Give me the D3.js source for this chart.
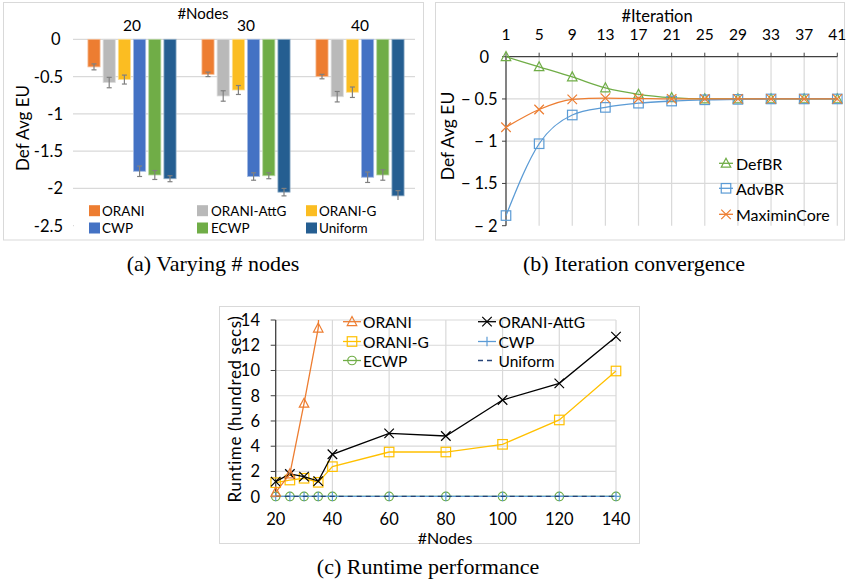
<!DOCTYPE html>
<html><head><meta charset="utf-8">
<script src="https://cdn.jsdelivr.net/npm/d3@7"></script>
<style>body{margin:0;background:#fff}svg{display:block}text{font-family:Lato,"Open Sans",sans-serif;fill:#000}</style>
</head><body><svg id="c" width="848" height="582"></svg>
<script>
// ---------- Panel (a) data ----------
const nodeGroups = ["20", "30", "40"];
const barSeries = ["ORANI", "ORANI-AttG", "ORANI-G", "CWP", "ECWP", "Uniform"];
const barORANI   = [-0.37, -0.47, -0.50];
const barAttG    = [-0.58, -0.76, -0.77];
const barG       = [-0.54, -0.68, -0.71];
const barCWP     = [-1.77, -1.84, -1.85];
const barECWP    = [-1.82, -1.83, -1.82];
const barUniform = [-1.87, -2.05, -2.10];
const errORANI   = [0.04, 0.03, 0.03];
const errAttG    = [0.07, 0.07, 0.07];
const errG       = [0.06, 0.06, 0.07];
const errCWP     = [0.07, 0.05, 0.07];
const errECWP    = [0.06, 0.04, 0.07];
const errUniform = [0.04, 0.05, 0.07];
const barColors  = ["#ED7D31", "#B9B9B9", "#FBBD22", "#4472C4", "#70AD47", "#255E91"];
const aTicks = [0, -0.5, -1, -1.5, -2, -2.5];

// ---------- Panel (b) data ----------
const iterations = [1, 5, 9, 13, 17, 21, 25, 29, 33, 37, 41];
const defBR = [0, -0.12, -0.24, -0.37, -0.445, -0.485, -0.5, -0.5, -0.5, -0.5, -0.5];
const advBR = [-1.88, -1.03, -0.69, -0.60, -0.55, -0.525, -0.51, -0.505, -0.5, -0.5, -0.5];
const maximinCore = [-0.835, -0.625, -0.505, -0.49, -0.495, -0.5, -0.5, -0.5, -0.5, -0.5, -0.5];
const bTicks = [0, -0.5, -1, -1.5, -2];

// ---------- Panel (c) data ----------
const nodesC = [20, 25, 30, 35, 40, 60, 80, 100, 120, 140];
const rtORANI = [0.35, 1.8, 7.4, 13.35, 45];
const rtAttG = [1.19, 1.8, 1.59, 1.24, 3.36, 5.02, 4.81, 7.66, 8.98, 12.68];
const rtG = [1.11, 1.32, 1.46, 1.14, 2.38, 3.54, 3.54, 4.15, 6.08, 9.96];
const rtCWP = [0.02, 0.02, 0.02, 0.02, 0.02, 0.02, 0.02, 0.02, 0.02, 0.02];
const rtECWP = [0.02, 0.02, 0.02, 0.02, 0.02, 0.02, 0.02, 0.02, 0.02, 0.02];
const rtUniform = [0.02, 0.02, 0.02, 0.02, 0.02, 0.02, 0.02, 0.02, 0.02, 0.02];
const cXTicks = [20, 40, 60, 80, 100, 120, 140];
const cYTicks = [0, 2, 4, 6, 8, 10, 12, 14];

const svg = d3.select("#c");
const GRID = "#D9D9D9", FRAME = "#D9D9D9", AXIS = "#404040";

// frames
[[3.5, 2.5, 420, 237.5], [435.5, 2.5, 409, 237.5], [219.5, 306.5, 420, 237]].forEach(f =>
  svg.append("rect").attr("x", f[0]).attr("y", f[1]).attr("width", f[2]).attr("height", f[3])
    .attr("fill", "none").attr("stroke", FRAME));

// ================= Panel (a) =================
{
  const g = svg.append("g");
  const y = d3.scaleLinear().domain([-2.5, 0]).range([225.7, 39.3]);
  const x0 = d3.scaleBand().domain(nodeGroups).range([75, 417]);
  const x1 = d3.scaleBand().domain(barSeries).range([0, x0.bandwidth()]).paddingInner(0.2).paddingOuter(0.85);
  const vals = [barORANI, barAttG, barG, barCWP, barECWP, barUniform];
  const errs = [errORANI, errAttG, errG, errCWP, errECWP, errUniform];
  g.selectAll("line.grid").data(aTicks).join("line")
    .attr("x1", 73).attr("x2", 415).attr("y1", d => y(d)).attr("y2", d => y(d))
    .attr("stroke", GRID).attr("stroke-width", 1.3);
  g.selectAll("text.yt").data(aTicks).join("text")
    .attr("x", d => d === 0 ? 60.5 : 63).attr("y", d => y(d)).attr("text-anchor", "end").attr("dominant-baseline", "central")
    .attr("font-size", 16.5).text(d => d === 0 ? "0" : "-" + Math.abs(d));
  g.selectAll("text.xt").data(nodeGroups).join("text")
    .attr("x", d => x0(d) + x0.bandwidth() / 2).attr("y", 25).attr("text-anchor", "middle")
    .attr("dominant-baseline", "central").attr("font-size", 15.5).text(d => d);
  g.append("text").attr("x", 203).attr("y", 13).attr("text-anchor", "middle").attr("dominant-baseline", "central")
    .attr("font-size", 15).text("#Nodes");
  g.append("text").attr("transform", "translate(22,128) rotate(-90)").attr("text-anchor", "middle")
    .attr("dominant-baseline", "central").attr("font-size", 17).text("Def Avg EU");
  barSeries.forEach((s, si) => {
    const light = d3.interpolateRgb(barColors[si], "#fff")(0.5);
    nodeGroups.forEach((n, gi) => {
      const v = vals[si][gi], e = errs[si][gi];
      const bx = x0(n) + x1(s), bw = x1.bandwidth();
      g.append("rect").attr("x", bx).attr("y", y(0)).attr("width", bw).attr("height", y(v) - y(0))
        .attr("fill", barColors[si]).attr("stroke", light).attr("stroke-width", 0.8);
      const cx = bx + bw / 2;
      g.append("line").attr("x1", cx).attr("x2", cx).attr("y1", y(v + e)).attr("y2", y(v - e))
        .attr("stroke", "#808080").attr("stroke-width", 1.2);
      [v + e, v - e].forEach(t => g.append("line").attr("x1", cx - 2.5).attr("x2", cx + 2.5)
        .attr("y1", y(t)).attr("y2", y(t)).attr("stroke", "#808080").attr("stroke-width", 1.2));
    });
  });
  // legend
  g.append("rect").attr("x", 74).attr("y", 200).attr("width", 342).attr("height", 38).attr("fill", "#fff");
  const lx = [[89, 102], [197, 211], [306, 319]], ly = [210.7, 228];
  barSeries.forEach((s, i) => {
    const col = i % 3, row = Math.floor(i / 3);
    g.append("rect").attr("x", lx[col][0]).attr("y", ly[row] - 5.5).attr("width", 11).attr("height", 11)
      .attr("fill", barColors[i]);
    g.append("text").attr("x", lx[col][1]).attr("y", ly[row]).attr("dominant-baseline", "central")
      .attr("font-size", 13.5).text(s);
  });
}

function marker(g, type, cx, cy, color, size) {
  const s = size || 9;
  if (type === "tri") {
    const h = s * 0.9;
    g.append("path").attr("d", `M${cx},${cy - h * 0.6}L${cx + s / 2},${cy + h * 0.45}L${cx - s / 2},${cy + h * 0.45}Z`)
      .attr("fill", "none").attr("stroke", color).attr("stroke-width", 1.2);
  } else if (type === "sq") {
    g.append("rect").attr("x", cx - s / 2).attr("y", cy - s / 2).attr("width", s).attr("height", s)
      .attr("fill", "none").attr("stroke", color).attr("stroke-width", 1.2);
  } else if (type === "x") {
    const r = s / 2;
    g.append("path").attr("d", `M${cx - r},${cy - r}L${cx + r},${cy + r}M${cx - r},${cy + r}L${cx + r},${cy - r}`)
      .attr("stroke", color).attr("stroke-width", 1.2);
  } else if (type === "plus") {
    const r = s / 2;
    g.append("path").attr("d", `M${cx - r},${cy}L${cx + r},${cy}M${cx},${cy - r}L${cx},${cy + r}`)
      .attr("stroke", color).attr("stroke-width", 1.2);
  } else if (type === "circ") {
    g.append("circle").attr("cx", cx).attr("cy", cy).attr("r", s / 2)
      .attr("fill", "none").attr("stroke", color).attr("stroke-width", 1.2);
  }
}

// ================= Panel (b) =================
{
  const g = svg.append("g");
  const x = d3.scalePoint().domain(iterations).range([506, 837.3]);
  const y = d3.scaleLinear().domain([-2, 0]).range([225.7, 56.7]);
  g.selectAll("line.vg").data(iterations.slice(1)).join("line")
    .attr("x1", d => x(d)).attr("x2", d => x(d)).attr("y1", y(0)).attr("y2", y(-2))
    .attr("stroke", GRID).attr("stroke-width", 1.2);
  g.selectAll("line.hg").data(bTicks.slice(1, 4)).join("line")
    .attr("x1", x(1)).attr("x2", x(41)).attr("y1", d => y(d)).attr("y2", d => y(d))
    .attr("stroke", GRID).attr("stroke-width", 1.2);
  // axes
  g.append("line").attr("x1", x(1)).attr("x2", x(41)).attr("y1", y(0)).attr("y2", y(0)).attr("stroke", AXIS).attr("stroke-width", 1.3);
  g.append("line").attr("x1", x(1)).attr("x2", x(1)).attr("y1", y(0)).attr("y2", y(-2)).attr("stroke", AXIS).attr("stroke-width", 1.3);
  g.selectAll("line.tt").data(iterations).join("line")
    .attr("x1", d => x(d)).attr("x2", d => x(d)).attr("y1", y(0)).attr("y2", y(0) - 4).attr("stroke", AXIS);
  g.selectAll("line.yt").data(bTicks).join("line")
    .attr("x1", x(1) - 4).attr("x2", x(1)).attr("y1", d => y(d)).attr("y2", d => y(d)).attr("stroke", AXIS);
  g.selectAll("text.xl").data(iterations).join("text")
    .attr("x", d => x(d)).attr("y", 33.5).attr("text-anchor", "middle").attr("dominant-baseline", "central")
    .attr("font-size", 15.5).text(d => d);
  const yl = g.selectAll("text.yl").data(bTicks).join("text")
    .attr("x", d => d === 0 ? 489 : 497.5).attr("y", d => y(d)).attr("text-anchor", "end").attr("dominant-baseline", "central")
    .attr("font-size", 16.5);
  yl.each(function (d) {
    const t = d3.select(this);
    if (d === 0) { t.text("0"); return; }
    t.append("tspan").text("\u2212");
    t.append("tspan").attr("dx", 4).text(Math.abs(d));
  });
  g.append("text").attr("x", 657).attr("y", 16).attr("text-anchor", "middle").attr("dominant-baseline", "central")
    .attr("font-size", 16.5).text("#Iteration");
  g.append("text").attr("transform", "translate(447,136) rotate(-90)").attr("text-anchor", "middle")
    .attr("dominant-baseline", "central").attr("font-size", 17.5).text("Def Avg EU");
  const series = [
    { name: "DefBR", v: defBR, c: "#70AD47", m: "tri" },
    { name: "AdvBR", v: advBR, c: "#5B9BD5", m: "sq" },
    { name: "MaximinCore", v: maximinCore, c: "#ED7D31", m: "x" }];
  const line = d3.line().x((d, i) => x(iterations[i])).y(d => y(d)).curve(d3.curveMonotoneX);
  series.forEach(s => {
    g.append("path").attr("d", line(s.v)).attr("fill", "none").attr("stroke", s.c).attr("stroke-width", 1.3);
    s.v.forEach((v, i) => marker(g, s.m, x(iterations[i]), y(v), s.c, 9.5));
  });
  const ly = [163.3, 188.3, 214.3];
  series.forEach((s, i) => {
    g.append("line").attr("x1", 719).attr("x2", 733).attr("y1", ly[i]).attr("y2", ly[i]).attr("stroke", s.c).attr("stroke-width", 1.3);
    marker(g, s.m, 726, ly[i], s.c, 9.5);
    g.append("text").attr("x", 736).attr("y", ly[i]).attr("dominant-baseline", "central").attr("font-size", 16).text(s.name);
  });
}

// ================= Panel (c) =================
{
  const g = svg.append("g");
  const x = d3.scaleLinear().domain([20, 140]).range([275.7, 616]);
  const y = d3.scaleLinear().domain([0, 14]).range([496.7, 320]);
  g.append("clipPath").attr("id", "clipC").append("rect")
    .attr("x", 270).attr("y", y(14)).attr("width", 360).attr("height", y(0) - y(14) + 10);
  g.selectAll("line.vg").data(cXTicks.slice(1)).join("line")
    .attr("x1", d => x(d)).attr("x2", d => x(d)).attr("y1", y(14)).attr("y2", y(0))
    .attr("stroke", GRID).attr("stroke-width", 1.2);
  g.selectAll("line.hg").data(cYTicks.slice(1)).join("line")
    .attr("x1", x(20)).attr("x2", x(140)).attr("y1", d => y(d)).attr("y2", d => y(d))
    .attr("stroke", GRID).attr("stroke-width", 1.2);
  g.append("line").attr("x1", x(20)).attr("x2", x(20)).attr("y1", y(14)).attr("y2", y(0)).attr("stroke", AXIS).attr("stroke-width", 1.3);
  g.selectAll("line.yt").data(cYTicks).join("line")
    .attr("x1", x(20) - 5).attr("x2", x(20)).attr("y1", d => y(d)).attr("y2", d => y(d)).attr("stroke", AXIS);
  g.selectAll("text.yl").data(cYTicks).join("text")
    .attr("x", 260).attr("y", d => y(d)).attr("text-anchor", "end").attr("dominant-baseline", "central")
    .attr("font-size", 16.5).text(d => d);
  g.selectAll("text.xl").data(cXTicks).join("text")
    .attr("x", d => x(d)).attr("y", 518.5).attr("text-anchor", "middle").attr("dominant-baseline", "central")
    .attr("font-size", 16.5).text(d => d);
  g.append("text").attr("x", 445).attr("y", 537).attr("text-anchor", "middle").attr("dominant-baseline", "central")
    .attr("font-size", 16).text("#Nodes");
  g.append("text").attr("transform", "translate(234,409) rotate(-90)").attr("text-anchor", "middle")
    .attr("dominant-baseline", "central").attr("font-size", 17).attr("letter-spacing", 0.6).text("Runtime (hundred secs)");
  const series = [
    { name: "ORANI", v: rtORANI, c: "#ED7D31", m: "tri" },
    { name: "ORANI-AttG", v: rtAttG, c: "#000000", m: "x" },
    { name: "ORANI-G", v: rtG, c: "#FFC000", m: "sq" },
    { name: "CWP", v: rtCWP, c: "#5B9BD5", m: "plus" },
    { name: "ECWP", v: rtECWP, c: "#70AD47", m: "circ" },
    { name: "Uniform", v: rtUniform, c: "#264478", m: null, dash: "5,4" }];
  const line = d3.line().x((d, i) => x(nodesC[i])).y(d => y(d));
  const drawOrder = [4, 3, 5, 2, 1, 0];
  drawOrder.forEach(k => {
    const s = series[k];
    g.append("path").attr("d", line(s.v)).attr("fill", "none").attr("stroke", s.c).attr("stroke-width", 1.3)
      .attr("stroke-dasharray", s.dash || null).attr("clip-path", "url(#clipC)");
    if (s.m) s.v.forEach((v, i) => { if (v <= 14) marker(g, s.m, x(nodesC[i]), y(v), s.c, s.m === "circ" ? 8.5 : 9.5); });
  });
  const lcols = [[343, 361, 363], [478, 496, 498.5]], lrows = [321.7, 341.5, 360.5];
  series.forEach((s, i) => {
    const col = i % 2, row = Math.floor(i / 2);
    const [a, b, t] = lcols[col], yy = lrows[row];
    g.append("line").attr("x1", a).attr("x2", b).attr("y1", yy).attr("y2", yy).attr("stroke", s.c).attr("stroke-width", 1.3)
      .attr("stroke-dasharray", s.dash || null);
    if (s.m) marker(g, s.m, (a + b) / 2, yy, s.c, s.m === "circ" ? 8.5 : 9.5);
    g.append("text").attr("x", t).attr("y", yy).attr("dominant-baseline", "central").attr("font-size", 15.5).text(s.name);
  });
}

// captions
[["(a) Varying # nodes", 213, 271], ["(b) Iteration convergence", 634, 271], ["(c) Runtime performance", 428, 574]].forEach(c =>
  svg.append("text").attr("x", c[1]).attr("y", c[2]).attr("text-anchor", "middle")
    .style("font-family", "'Liberation Serif','DejaVu Serif',serif").attr("font-size", 22).text(c[0]));
</script></body></html>
